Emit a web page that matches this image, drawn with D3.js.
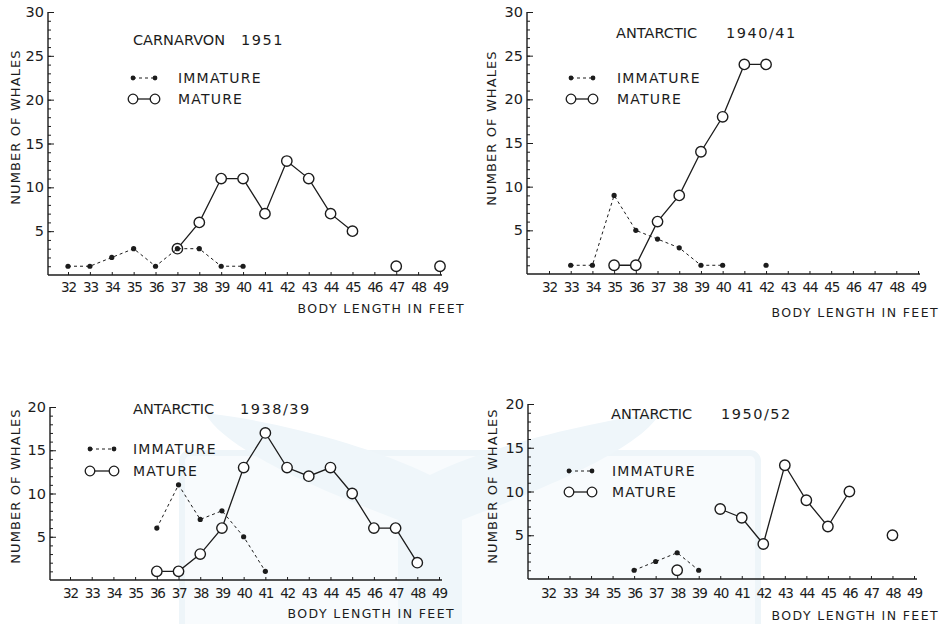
<!DOCTYPE html>
<html>
<head>
<meta charset="utf-8">
<script src="https://cdnjs.cloudflare.com/ajax/libs/d3/7.8.5/d3.min.js"></script>
<style>
  body { margin: 0; background: #fff; }
  svg text { font-family: "DejaVu Sans", sans-serif; fill: #1c1c1c; }
  .tick line { stroke: #1c1c1c; }
</style>
</head>
<body>
<div id="chart"></div>
<script>
// body length categories (feet) and y tick labels
var bodyLengths = [32, 33, 34, 35, 36, 37, 38, 39, 40, 41, 42, 43, 44, 45, 46, 47, 48, 49];
var yTicks30 = [5, 10, 15, 20, 25, 30];
var yTicks20 = [5, 10, 15, 20];

// number of whales per body length, null = no point
var carnarvon1951Immature = [1, 1, 2, 3, 1, 3, 3, 1, 1, null, null, null, null, null, null, null, null, null];
var carnarvon1951Mature   = [null, null, null, null, null, 3, 6, 11, 11, 7, 13, 11, 7, 5, null, 1, null, 1];
var antarctic1940Immature = [null, 1, 1, 9, 5, 4, 3, 1, 1, null, 1, null, null, null, null, null, null, null];
var antarctic1940Mature   = [null, null, null, 1, 1, 6, 9, 14, 18, 24, 24, null, null, null, null, null, null, null];
var antarctic1938Immature = [null, null, null, null, 6, 11, 7, 8, 5, 1, null, null, null, null, null, null, null, null];
var antarctic1938Mature   = [null, null, null, null, 1, 1, 3, 6, 13, 17, 13, 12, 13, 10, 6, 6, 2, null];
var antarctic1950Immature = [null, null, null, null, 1, 2, 3, 1, null, null, null, null, null, null, null, null, null, null];
var antarctic1950Mature   = [null, null, null, null, null, null, 1, null, 8, 7, 4, 13, 9, 6, 10, null, 5, null];

var panelTitles = [["CARNARVON", "1951"], ["ANTARCTIC", "1940/41"], ["ANTARCTIC", "1938/39"], ["ANTARCTIC", "1950/52"]];

var ink = "#1c1c1c";

var svg = d3.select("#chart").append("svg")
    .attr("width", 948)
    .attr("height", 624);

// faint whale-tail watermark behind the lower charts
var mark = svg.append("g");
mark.append("rect")
    .attr("x", 182).attr("y", 453)
    .attr("width", 576).attr("height", 200)
    .attr("rx", 8)
    .attr("fill", "#f8fbfd")
    .attr("stroke", "#eef5f9")
    .attr("stroke-width", 6);
mark.append("path")
    .attr("d", "M205,413 C270,420 370,445 430,475 C490,445 600,420 660,413 C640,450 540,490 462,520 L462,624 L398,624 L398,520 C320,490 225,450 205,413 Z")
    .attr("fill", "#eff6fa");

var panels = [
  { title: panelTitles[0], immature: carnarvon1951Immature, mature: carnarvon1951Mature, yMax: 30, yTicks: yTicks30,
    x0: 48, x32: 68, x49: 440, xEnd: 442, yTop: 12, yBase: 275,
    titleX: 133, title2X: 241, titleY: 45,
    legX1: 133, legX2: 155, legTextX: 178, legY1: 78, legY2: 99,
    yLabelX: 15, yLabelY: 127, xLabelX: 465, xLabelY: 313, tickY: 292 },
  { title: panelTitles[1], immature: antarctic1940Immature, mature: antarctic1940Mature, yMax: 30, yTicks: yTicks30,
    x0: 527, x32: 549, x49: 918, xEnd: 920, yTop: 12, yBase: 274,
    titleX: 616, title2X: 726, titleY: 38,
    legX1: 571, legX2: 593, legTextX: 617, legY1: 78, legY2: 99,
    yLabelX: 491, yLabelY: 128, xLabelX: 939, xLabelY: 317, tickY: 292 },
  { title: panelTitles[2], immature: antarctic1938Immature, mature: antarctic1938Mature, yMax: 20, yTicks: yTicks20,
    x0: 50, x32: 70, x49: 439, xEnd: 442, yTop: 407, yBase: 580,
    titleX: 133, title2X: 240, titleY: 414,
    legX1: 90, legX2: 114, legTextX: 133, legY1: 449, legY2: 471,
    yLabelX: 15, yLabelY: 486, xLabelX: 455, xLabelY: 618, tickY: 598 },
  { title: panelTitles[3], immature: antarctic1950Immature, mature: antarctic1950Mature, yMax: 20, yTicks: yTicks20,
    x0: 528, x32: 548, x49: 914, xEnd: 917, yTop: 404, yBase: 579,
    titleX: 611, title2X: 721, titleY: 419,
    legX1: 569, legX2: 592, legTextX: 612, legY1: 471, legY2: 492,
    yLabelX: 492, yLabelY: 486, xLabelX: 939, xLabelY: 620, tickY: 598 }
];

panels.forEach(function (p) {
  var g = svg.append("g");

  var x = d3.scaleLinear().domain([32, 49]).range([p.x32, p.x49]);
  var y = d3.scaleLinear().domain([0, p.yMax]).range([p.yBase, p.yTop]);

  // axis lines
  g.append("line")
      .attr("x1", p.x0).attr("x2", p.x0)
      .attr("y1", p.yTop).attr("y2", p.yBase)
      .attr("stroke", ink).attr("stroke-width", 1.4);
  g.append("line")
      .attr("x1", p.x0).attr("x2", p.xEnd)
      .attr("y1", p.yBase).attr("y2", p.yBase)
      .attr("stroke", ink).attr("stroke-width", 1.4);

  // minor y ticks, one per whale
  g.append("g")
      .attr("transform", "translate(" + p.x0 + ",0)")
      .call(d3.axisLeft(y).tickValues(d3.range(1, p.yMax + 1)).tickSizeInner(-3).tickSizeOuter(0).tickFormat(""))
      .call(function (a) { a.select(".domain").remove(); });

  // major y ticks with labels
  var yAxis = g.append("g")
      .attr("transform", "translate(" + p.x0 + ",0)")
      .call(d3.axisLeft(y).tickValues(p.yTicks).tickSizeInner(-6).tickSizeOuter(0).tickPadding(4));
  yAxis.select(".domain").remove();
  yAxis.selectAll("text")
      .attr("font-size", 14.5)
      .attr("font-family", "DejaVu Sans")
      .style("fill", ink);

  // x ticks pointing up, labels below
  var xAxis = g.append("g")
      .attr("transform", "translate(0," + p.yBase + ")")
      .call(d3.axisBottom(x).tickValues(bodyLengths).tickSizeInner(-3).tickSizeOuter(0).tickFormat(d3.format("d")));
  xAxis.select(".domain").remove();
  xAxis.selectAll("text")
      .attr("y", p.tickY - p.yBase)
      .attr("dy", 0)
      .attr("font-size", 13.5)
      .attr("font-family", "DejaVu Sans")
      .attr("letter-spacing", -1.2)
      .style("fill", ink);

  // axis titles
  g.append("text")
      .attr("transform", "translate(" + p.yLabelX + "," + p.yLabelY + ")rotate(-90)")
      .attr("text-anchor", "middle")
      .attr("dy", "0.35em")
      .attr("font-size", 13)
      .attr("letter-spacing", 1.1)
      .text("NUMBER OF WHALES");
  g.append("text")
      .attr("x", p.xLabelX)
      .attr("y", p.xLabelY)
      .attr("text-anchor", "end")
      .attr("font-size", 12.5)
      .attr("letter-spacing", 1.4)
      .text("BODY LENGTH IN FEET");

  // chart title
  g.append("text")
      .attr("x", p.titleX).attr("y", p.titleY)
      .attr("font-size", 14.5)
      .attr("letter-spacing", 0)
      .text(p.title[0]);
  g.append("text")
      .attr("x", p.title2X).attr("y", p.titleY)
      .attr("font-size", 14.5)
      .attr("letter-spacing", 1.5)
      .text(p.title[1]);

  var line = d3.line()
      .defined(function (d) { return d != null; })
      .x(function (d, i) { return x(bodyLengths[i]); })
      .y(function (d) { return y(d); });

  var pts = function (arr) {
    return arr.map(function (d, i) { return { len: bodyLengths[i], n: d }; })
      .filter(function (d) { return d.n != null; });
  };

  // mature
  g.append("path")
      .datum(p.mature)
      .attr("d", line)
      .attr("fill", "none")
      .attr("stroke", ink)
      .attr("stroke-width", 1.3);
  g.selectAll(".mature")
      .data(pts(p.mature))
      .enter().append("circle")
      .attr("class", "mature")
      .attr("cx", function (d) { return x(d.len); })
      .attr("cy", function (d) { return y(d.n); })
      .attr("r", 5.2)
      .attr("fill", "#fff")
      .attr("stroke", ink)
      .attr("stroke-width", 1.4);

  // immature
  g.append("path")
      .datum(p.immature)
      .attr("d", line)
      .attr("fill", "none")
      .attr("stroke", ink)
      .attr("stroke-width", 1)
      .attr("stroke-dasharray", "3,3");
  g.selectAll(".immature")
      .data(pts(p.immature))
      .enter().append("circle")
      .attr("class", "immature")
      .attr("cx", function (d) { return x(d.len); })
      .attr("cy", function (d) { return y(d.n); })
      .attr("r", 2.6)
      .attr("fill", ink);

  // legend
  var leg = g.append("g");
  leg.append("line")
      .attr("x1", p.legX1).attr("x2", p.legX2)
      .attr("y1", p.legY1).attr("y2", p.legY1)
      .attr("stroke", ink).attr("stroke-dasharray", "3,3");
  leg.selectAll(".legdot")
      .data([p.legX1, p.legX2])
      .enter().append("circle")
      .attr("cx", function (d) { return d; })
      .attr("cy", p.legY1)
      .attr("r", 2.4)
      .attr("fill", ink);
  leg.append("line")
      .attr("x1", p.legX1).attr("x2", p.legX2)
      .attr("y1", p.legY2).attr("y2", p.legY2)
      .attr("stroke", ink).attr("stroke-width", 1.3);
  leg.selectAll(".legcircle")
      .data([p.legX1, p.legX2])
      .enter().append("circle")
      .attr("cx", function (d) { return d; })
      .attr("cy", p.legY2)
      .attr("r", 4.8)
      .attr("fill", "#fff")
      .attr("stroke", ink)
      .attr("stroke-width", 1.3);
  leg.append("text")
      .attr("x", p.legTextX).attr("y", p.legY1 + 5)
      .attr("font-size", 14)
      .attr("letter-spacing", 1.2)
      .text("IMMATURE");
  leg.append("text")
      .attr("x", p.legTextX).attr("y", p.legY2 + 5)
      .attr("font-size", 14)
      .attr("letter-spacing", 1.2)
      .text("MATURE");
});
</script>
</body>
</html>
